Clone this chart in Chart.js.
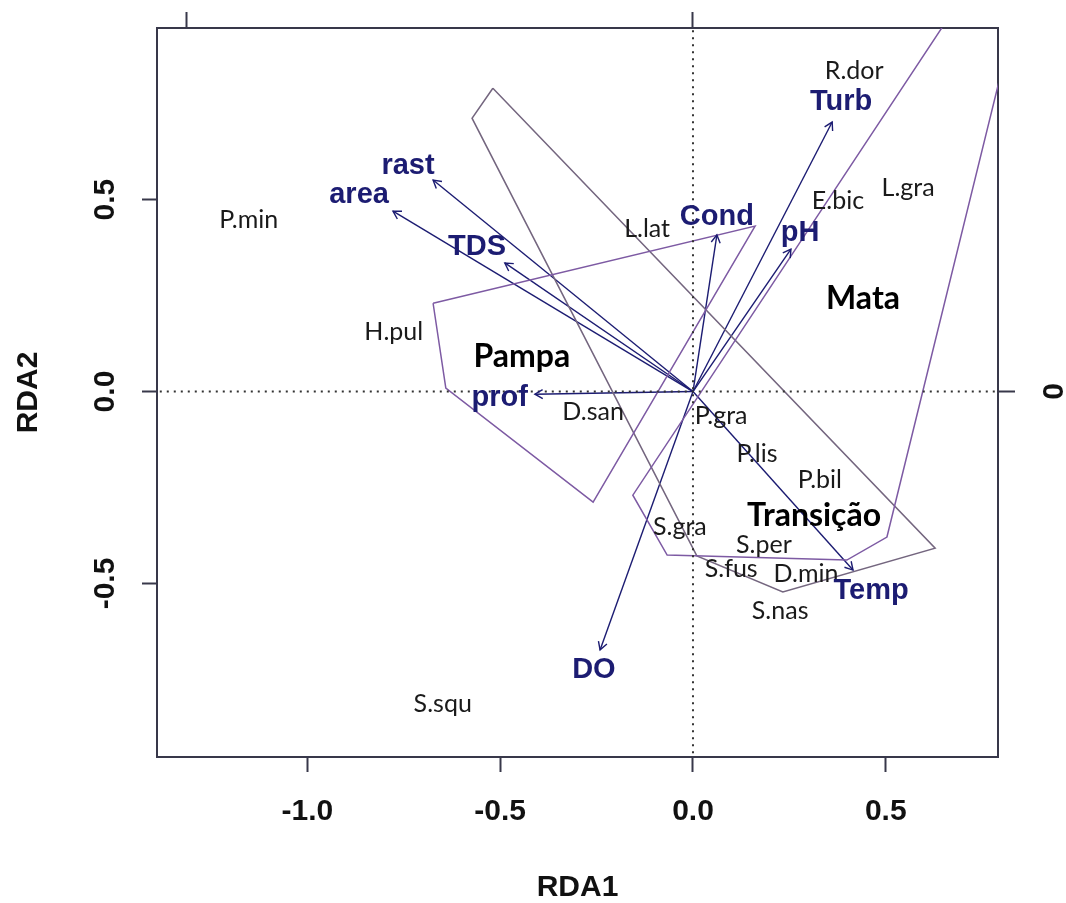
<!DOCTYPE html>
<html>
<head>
<meta charset="utf-8">
<script src="https://cdn.jsdelivr.net/npm/chart.js@4/dist/chart.umd.min.js"></script>
<style>
  html, body { margin: 0; padding: 0; background: #fff; }
  #wrap { width: 1066px; height: 903px; }
</style>
</head>
<body>
<div id="wrap"><canvas id="rdaChart" width="1066" height="903"></canvas></div>
<script>
// RDA biplot - environmental vectors, species scores and group hulls

// Environmental variables (arrow tips and label positions, RDA1/RDA2 units)
const envNames = ['rast', 'area', 'TDS', 'Cond', 'pH', 'Turb', 'prof', 'Temp', 'DO'];
const envX = [-0.674, -0.778, -0.488, 0.062, 0.254, 0.361, -0.410, 0.415, -0.241];
const envY = [0.551, 0.470, 0.335, 0.408, 0.371, 0.702, -0.007, -0.465, -0.673];
const envLabelX = [-0.739, -0.866, -0.560, 0.062, 0.278, 0.384, -0.501, 0.462, -0.257];
const envLabelY = [0.587, 0.513, 0.376, 0.454, 0.413, 0.754, -0.017, -0.520, -0.725];

// Species scores
const speciesNames = ['R.dor', 'L.gra', 'E.bic', 'L.lat', 'P.min', 'H.pul', 'D.san', 'P.gra',
  'P.lis', 'P.bil', 'S.gra', 'S.per', 'S.fus', 'D.min', 'S.nas', 'S.squ'];
const speciesX = [0.418, 0.558, 0.376, -0.119, -1.152, -0.776, -0.259, 0.073,
  0.166, 0.329, -0.034, 0.184, 0.099, 0.293, 0.226, -0.649];
const speciesY = [0.835, 0.530, 0.496, 0.423, 0.447, 0.155, -0.053, -0.064,
  -0.163, -0.230, -0.353, -0.400, -0.462, -0.475, -0.572, -0.814];

// Group names and their label positions
const groupNames = ['Pampa', 'Mata', 'Transição'];
const groupX = [-0.444, 0.441, 0.314];
const groupY = [0.090, 0.243, -0.324];

// Convex hulls of the site groups
const pampaHullX = [-0.674, -0.641, -0.259, 0.161];
const pampaHullY = [0.230, 0.009, -0.288, 0.431];
const mataHullX = [0.936, 0.503, 0.399, -0.067, -0.156];
const mataHullY = [1.389, -0.379, -0.439, -0.426, -0.270];
const transHullX = [-0.519, 0.628, 0.233, 0.010, -0.573];
const transHullY = [0.790, -0.408, -0.522, -0.428, 0.712];

// Axis ranges and ticks
const xRange = [-1.390, 0.791];
const yRange = [-0.952, 0.947];
const topRange = [-1.059, 0.603];
const rightRange = [-0.722, 0.718];
const tickStep = 0.5;

const NAVY = '#1c1c72';
const HULL = '#7d5aa3';
const HULL_GREY = '#74667f';
const FRAME = '#38384a';

function toPoints(xs, ys, close) {
  const pts = xs.map((x, i) => ({ x: x, y: ys[i] }));
  if (close) pts.push({ x: xs[0], y: ys[0] });
  return pts;
}

function lineSet(points, color, width, dash) {
  return {
    data: points,
    showLine: true,
    borderColor: color,
    borderWidth: width,
    borderDash: dash || [],
    pointRadius: 0,
    fill: false,
    tension: 0
  };
}

const datasets = [];
datasets.push(lineSet([{ x: -2, y: 0 }, { x: 2, y: 0 }], '#333', 2, [2, 5]));
datasets.push(lineSet([{ x: 0, y: -2 }, { x: 0, y: 2 }], '#333', 2, [2, 5]));
datasets.push(lineSet(toPoints(pampaHullX, pampaHullY, true), HULL, 1.5));
datasets.push(lineSet(toPoints(mataHullX, mataHullY, true), HULL, 1.5));
datasets.push(lineSet(toPoints(transHullX, transHullY, true), HULL_GREY, 1.5));
envNames.forEach((name, i) => {
  datasets.push(lineSet([{ x: 0, y: 0 }, { x: envX[i], y: envY[i] }], NAVY, 1.4));
});

// Arrowheads and text labels
const biplotLabels = {
  id: 'biplotLabels',
  afterDatasetsDraw(chart) {
    const { ctx, chartArea, scales: { x, y } } = chart;
    ctx.save();
    ctx.beginPath();
    ctx.rect(chartArea.left, chartArea.top, chartArea.right - chartArea.left, chartArea.bottom - chartArea.top);
    ctx.clip();

    // arrowheads
    const ox = x.getPixelForValue(0);
    const oy = y.getPixelForValue(0);
    ctx.strokeStyle = NAVY;
    ctx.lineWidth = 1.4;
    envNames.forEach((name, i) => {
      const tx = x.getPixelForValue(envX[i]);
      const ty = y.getPixelForValue(envY[i]);
      const ang = Math.atan2(ty - oy, tx - ox);
      const len = 9;
      ctx.beginPath();
      ctx.moveTo(tx - len * Math.cos(ang - Math.PI / 6), ty - len * Math.sin(ang - Math.PI / 6));
      ctx.lineTo(tx, ty);
      ctx.lineTo(tx - len * Math.cos(ang + Math.PI / 6), ty - len * Math.sin(ang + Math.PI / 6));
      ctx.stroke();
    });

    ctx.textAlign = 'center';
    ctx.textBaseline = 'middle';

    // species
    ctx.fillStyle = '#1a1a1a';
    ctx.font = '25px Lato, "Open Sans", sans-serif';
    speciesNames.forEach((name, i) => {
      ctx.fillText(name, x.getPixelForValue(speciesX[i]), y.getPixelForValue(speciesY[i]));
    });

    // groups
    ctx.fillStyle = '#000';
    ctx.font = 'bold 32px Lato, "Open Sans", sans-serif';
    groupNames.forEach((name, i) => {
      ctx.fillText(name, x.getPixelForValue(groupX[i]), y.getPixelForValue(groupY[i]));
    });

    // environmental variables
    ctx.fillStyle = NAVY;
    ctx.font = 'bold 29px "Liberation Sans", Arial, sans-serif';
    envNames.forEach((name, i) => {
      ctx.fillText(name, x.getPixelForValue(envLabelX[i]), y.getPixelForValue(envLabelY[i]));
    });
    ctx.restore();
  }
};

function axisGrid(len) {
  return {
    display: true,
    drawOnChartArea: false,
    drawTicks: true,
    tickLength: len,
    tickWidth: 2,
    tickColor: FRAME
  };
}

// fix each axis box size and drop the label overhang padding
function fixSize(prop, size) {
  return s => {
    s[prop] = size;
    s.paddingTop = 0;
    s.paddingBottom = 0;
    s.paddingLeft = 0;
    s.paddingRight = 0;
  };
}

const axisFont = { family: '"Liberation Sans", Arial, sans-serif', size: 30, weight: 'bold', lineHeight: 1.2 };
const titleFont = { family: '"Liberation Sans", Arial, sans-serif', size: 30, weight: 'bold', lineHeight: 1 };

new Chart(document.getElementById('rdaChart'), {
  type: 'scatter',
  data: { datasets: datasets },
  options: {
    responsive: false,
    animation: false,
    devicePixelRatio: 1,
    layout: { padding: 0 },
    plugins: { legend: { display: false }, tooltip: { enabled: false } },
    scales: {
      x: {
        type: 'linear',
        position: 'bottom',
        min: xRange[0],
        max: xRange[1],
        border: { display: true, color: FRAME, width: 2 },
        grid: axisGrid(15),
        ticks: {
          stepSize: tickStep,
          includeBounds: false,
          padding: 22,
          color: '#111',
          font: axisFont,
          maxRotation: 0,
          callback: v => v.toFixed(1)
        },
        title: { display: true, text: 'RDA1', color: '#111', font: titleFont, padding: { top: 0, bottom: 0 } },
        afterFit: fixSize('height', 146)
      },
      y: {
        type: 'linear',
        position: 'left',
        min: yRange[0],
        max: yRange[1],
        border: { display: true, color: FRAME, width: 2 },
        grid: axisGrid(15),
        ticks: {
          stepSize: tickStep,
          includeBounds: false,
          padding: 10,
          color: '#111',
          font: axisFont,
          minRotation: 90,
          maxRotation: 90,
          crossAlign: 'center',
          callback: v => v.toFixed(1)
        },
        title: { display: true, text: 'RDA2', color: '#111', font: titleFont, padding: { top: 14, bottom: 0 } },
        afterFit: fixSize('width', 157)
      },
      x2: {
        type: 'linear',
        position: 'top',
        min: topRange[0],
        max: topRange[1],
        border: { display: true, color: FRAME, width: 2 },
        grid: axisGrid(16),
        ticks: {
          stepSize: 1,
          includeBounds: false,
          color: 'rgba(0,0,0,0)',
          font: axisFont,
          maxRotation: 0
        },
        afterFit: fixSize('height', 28)
      },
      y2: {
        type: 'linear',
        position: 'right',
        min: rightRange[0],
        max: rightRange[1],
        border: { display: true, color: FRAME, width: 2 },
        grid: axisGrid(17),
        ticks: {
          stepSize: 1,
          includeBounds: false,
          padding: 31,
          color: '#111',
          font: axisFont,
          minRotation: 90,
          maxRotation: 90,
          crossAlign: 'center',
          callback: v => String(v)
        },
        afterFit: fixSize('width', 68)
      }
    }
  },
  plugins: [biplotLabels]
});
</script>
</body>
</html>
